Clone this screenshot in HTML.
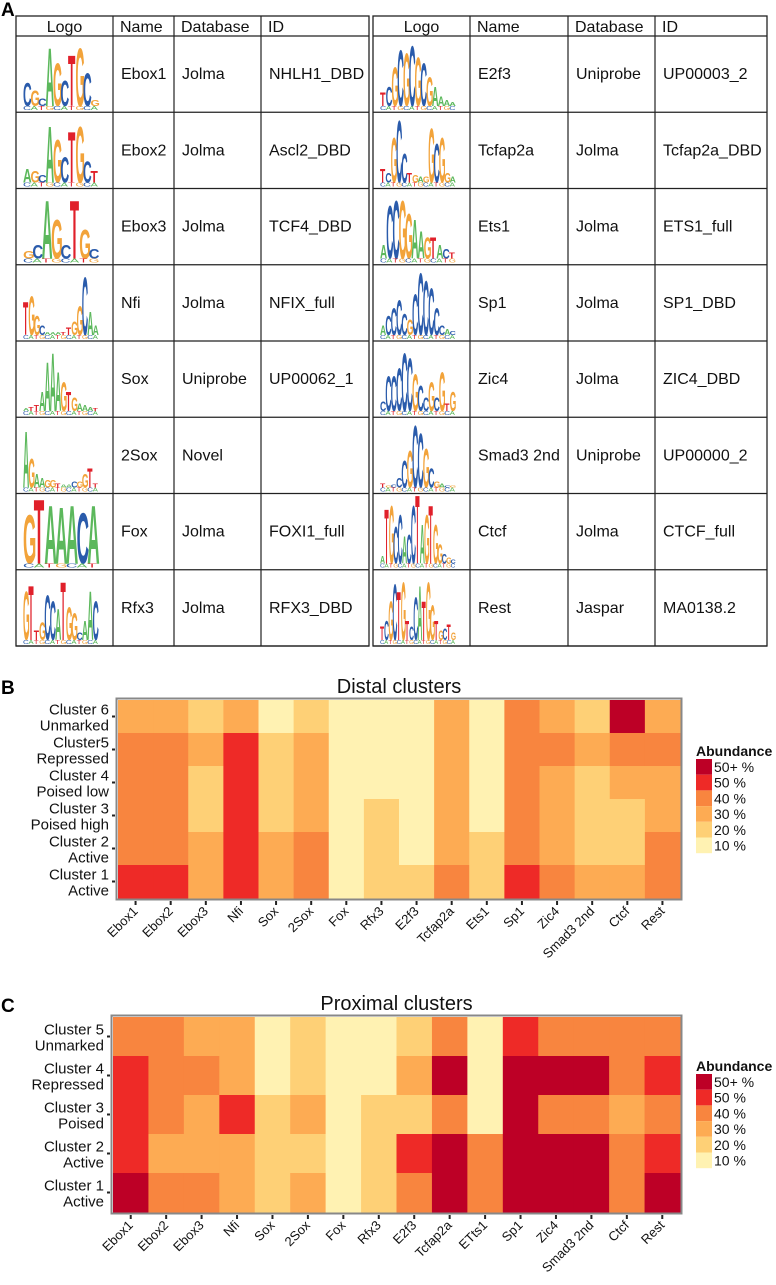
<!DOCTYPE html>
<html><head><meta charset="utf-8">
<style>
html,body{margin:0;padding:0;background:#fff;}
body{width:776px;height:1280px;position:relative;overflow:hidden;font-family:"Liberation Sans",Arial,sans-serif;}
svg text{font-family:"Liberation Sans",Arial,sans-serif;}
</style></head>
<body>
<svg id="fig" width="776" height="1280" viewBox="0 0 776 1280" xmlns="http://www.w3.org/2000/svg">
<text x="1" y="16" font-size="19" font-weight="bold">A</text>
<text x="1" y="694" font-size="19" font-weight="bold">B</text>
<text x="1" y="1012" font-size="19" font-weight="bold">C</text>
<g id="tables"></g>
<g id="distal"></g>
<g id="proximal"></g>
</svg>
<script>
const NS="http://www.w3.org/2000/svg";
function mk(tag,attrs,parent){const e=document.createElementNS(NS,tag);for(const k in attrs)e.setAttribute(k,attrs[k]);parent.appendChild(e);return e;}

// ---------- Table data ----------
const leftNames=["Ebox1","Ebox2","Ebox3","Nfi","Sox","2Sox","Fox","Rfx3"];
const leftDb=["Jolma","Jolma","Jolma","Jolma","Uniprobe","Novel","Jolma","Jolma"];
const leftId=["NHLH1_DBD","Ascl2_DBD","TCF4_DBD","NFIX_full","UP00062_1","","FOXI1_full","RFX3_DBD"];
const rightNames=["E2f3","Tcfap2a","Ets1","Sp1","Zic4","Smad3 2nd","Ctcf","Rest"];
const rightDb=["Uniprobe","Jolma","Jolma","Jolma","Jolma","Uniprobe","Jolma","Jaspar"];
const rightId=["UP00003_2","Tcfap2a_DBD","ETS1_full","SP1_DBD","ZIC4_DBD","UP00000_2","CTCF_full","MA0138.2"];
const leftLogos=[
 ["CGCAGCTGCG",[24,16,8,60,44,26,52,60,34,6]],
 ["AGCAGCTGCT",[14,12,8,58,44,26,52,58,22,12]],
 ["GCAGCTGC",[8,14,60,40,14,60,30,10]],
 ["TGGCAAATTGGCAA",[34,40,20,10,3,3,3,3,8,14,30,60,24,10]],
 ["ATTAAAAGTGAAAT",[3,4,6,20,50,60,40,30,20,14,8,6,4,3]],
 ["AGAAGGTAACGGTT",[58,30,14,10,8,8,4,3,3,6,6,14,20,4]],
 ["GTAAACA",[50,66,60,58,60,52,60]],
 ["GTTGCCATGGCAAC",[50,56,10,18,46,40,32,60,34,28,8,20,50,40]]
];
const rightLogos=[
 ["TCGCGCGCGAAAA",[14,20,40,58,54,62,50,44,30,20,10,6,4]],
 ["TCGCCTGAGGCGGA",[14,10,46,64,30,10,8,6,6,56,40,46,10,6]],
 ["ACCGGAAGTACT",[14,54,60,60,46,40,28,22,22,14,10,6]],
 ["ACCCCGCCCCCCAC",[10,20,28,36,22,16,42,64,56,48,28,10,6,4]],
 ["CCCCCCGCCGCGTG",[10,36,36,44,60,54,38,26,14,30,14,40,8,20]],
 ["TGCCCGCCGCGACG",[4,2,3,10,28,38,64,56,40,20,6,4,2,2]],
 ["ATGCCACCTAGTGGCGC",[8,56,60,38,50,28,30,60,70,40,50,60,40,20,10,6,4]],
 ["TCGCTGTCCATGGTGCTG",[14,20,40,58,50,60,20,14,44,56,40,60,36,20,10,12,16,8]]
];
const letterColor={A:"#5cb85c",C:"#2a5bab",G:"#f2a33a",T:"#e0202a"};

const T={top:16,head:20,row:76.25};
const leftCols=[16,113,174,261,369];
const rightCols=[373,470,568,655,767];
const tg=document.getElementById('tables');

function drawLogo(g,x0,x1,yBase,spec){
  const s=spec[0],h=spec[1],n=s.length,w=(x1-x0)/n;
  for(let i=0;i<n;i++){
    const L=s[i];const cap=14.3;
    const t=mk('text',{x:0,y:0,'font-size':20,'font-weight':'bold',fill:letterColor[L],transform:`translate(${x0+i*w},${yBase}) scale(${w/12.5},${h[i]/cap})`},g);
    t.textContent=L;
    const L2="ACGT"[(i*3+1)%4];
    const t2=mk('text',{x:0,y:0,'font-size':20,fill:letterColor[L2],transform:`translate(${x0+i*w},${yBase+4}) scale(${w/13.5},${4/cap})`},g);
    t2.textContent=L2;
  }
}

function drawTable(cols,names,dbs,ids,logos,prefix){
  const g=mk('g',{},tg);
  
  
  const bottom=T.top+T.head+8*T.row;
  mk('rect',{x:cols[0],y:T.top,width:cols[4]-cols[0],height:bottom-T.top,fill:'none',stroke:'#222','stroke-width':1.3},g);
  for(let c=1;c<4;c++)mk('line',{x1:cols[c],x2:cols[c],y1:T.top,y2:bottom,stroke:'#222','stroke-width':1.2},g);
  for(let r=0;r<=8;r++){const y=T.top+T.head+r*T.row;mk('line',{x1:cols[0],x2:cols[4],y1:y,y2:y,stroke:'#222','stroke-width':1.2},g);}
  const hdr=["Logo","Name","Database","ID"];
  for(let c=0;c<4;c++){
    const t=mk('text',{x:c==0?(cols[0]+cols[1])/2:cols[c]+7,y:T.top+16,'font-size':16,'text-anchor':c==0?'middle':'start',fill:'#111'},g);
    
    
    t.textContent=hdr[c];
  }
  for(let r=0;r<8;r++){
    const y0=T.top+T.head+r*T.row;
    const lg=mk('g',{},g);
    
    
    drawLogo(lg,cols[0]+7,cols[0]+82,y0+70,logos[r]);
    const vals=[names[r],dbs[r],ids[r]];
    for(let c=0;c<3;c++){
      const t=mk('text',{x:cols[c+1]+8,y:y0+T.row/2+5,'font-size':16,fill:'#111'},g);
      
      
      t.textContent=vals[c];
    }
  }
}
drawTable(leftCols,leftNames,leftDb,leftId,leftLogos,'left');
drawTable(rightCols,rightNames,rightDb,rightId,rightLogos,'right');

// ---------- Heatmap data ----------
const motifs=["Ebox1","Ebox2","Ebox3","Nfi","Sox","2Sox","Fox","Rfx3","E2f3","Tcfap2a","Ets1","Sp1","Zic4","Smad3 2nd","Ctcf","Rest"];
const motifsProx=["Ebox1","Ebox2","Ebox3","Nfi","Sox","2Sox","Fox","Rfx3","E2f3","Tcfap2a","ETts1","Sp1","Zic4","Smad3 2nd","Ctcf","Rest"];
const distalRows=[["Cluster 6","Unmarked"],["Cluster5","Repressed"],["Cluster 4","Poised low"],["Cluster 3","Poised high"],["Cluster 2","Active"],["Cluster 1","Active"]];
const distalC6=[3,3,2,3,1,2,1,1,1,3,1,4,3,2,6,3];
const distalC5=[4,4,3,5,2,3,1,1,1,3,1,4,4,3,4,4];
const distalC4=[4,4,2,5,2,3,1,1,1,3,1,4,3,2,3,3];
const distalC3=[4,4,2,5,2,3,1,2,1,3,1,4,3,2,2,3];
const distalC2=[4,4,3,5,3,4,1,2,1,3,2,4,3,2,2,4];
const distalC1=[5,5,3,5,3,4,1,2,2,4,2,5,4,3,3,4];
const proxRows=[["Cluster 5","Unmarked"],["Cluster 4","Repressed"],["Cluster 3","Poised"],["Cluster 2","Active"],["Cluster 1","Active"]];
const proxC5=[4,4,3,3,1,2,1,1,2,4,1,5,4,4,4,4];
const proxC4=[5,4,4,3,1,2,1,1,3,6,1,6,6,6,4,5];
const proxC3=[5,4,3,5,2,3,1,2,2,4,1,6,4,4,3,4];
const proxC2=[5,3,3,3,2,2,1,2,5,6,4,6,6,6,4,5];
const proxC1=[6,4,4,3,2,3,1,2,4,6,4,6,6,6,4,6];
const levelColors=["#fff2b2","#fed076","#fdab53","#f8853f","#ee2a27","#bd0026"];
const legendLabels=["50+ %","50 %","40 %","30 %","20 %","10 %"];

function heatmap(gid,name,title,rows,data,cols,box,legY){
  const g=document.getElementById(gid);
  
  
  const {x0,x1,y0,y1}=box;
  const nC=cols.length,nR=rows.length;
  const cw=(x1-x0)/nC,rh=(y1-y0)/nR;
  const xS=i=>x0+i*cw, yS=j=>y0+j*rh;
  const tt=mk('text',{x:(x0+x1)/2,y:y0-7,'font-size':20,'text-anchor':'middle',fill:'#111'},g);
  
  
  tt.textContent=title;
  for(let j=0;j<nR;j++)for(let i=0;i<nC;i++){
    const r=mk('rect',{x:xS(i),y:yS(j),width:cw+0.5,height:rh+0.5,fill:levelColors[data[j][i]-1]},g);
    
    
  }
  mk('rect',{x:x0-1.5,y:y0-1.5,width:x1-x0+3,height:y1-y0+3,fill:'none',stroke:'#888','stroke-width':2},g);
  for(let j=0;j<nR;j++){
    const cy=yS(j)+rh/2;
    mk('line',{x1:x0-6,x2:x0-3,y1:cy,y2:cy,stroke:'#222','stroke-width':2},g);
    const t=mk('text',{x:x0-9,y:cy-2,'font-size':15,'text-anchor':'end',fill:'#111'},g);
    
    
    mk('tspan',{x:x0-9,dy:0},t).textContent=rows[j][0];
    mk('tspan',{x:x0-9,dy:16},t).textContent=rows[j][1];
  }
  for(let i=0;i<nC;i++){
    const cx=xS(i)+cw/2;
    mk('line',{x1:cx,x2:cx,y1:y1+3,y2:y1+7,stroke:'#222','stroke-width':2},g);
    const t=mk('text',{x:0,y:0,'font-size':13,'text-anchor':'end',fill:'#111',transform:`translate(${cx+3},${y1+14}) rotate(-45)`},g);
    
    
    t.textContent=cols[i];
  }
  const lg=mk('g',{},g);
  
  
  const lt=mk('text',{x:696,y:legY,'font-size':14,'font-weight':'bold',fill:'#111'},lg);
  lt.textContent="Abundance";
  for(let k=0;k<6;k++){
    const yy=legY+3+k*15.7;
    const r=mk('rect',{x:696,y:yy,width:16,height:15.7,fill:levelColors[5-k]},lg);
    
    
    const t=mk('text',{x:714,y:yy+13,'font-size':14,fill:'#111'},lg);
    
    
    t.textContent=legendLabels[k];
  }
}
heatmap('distal','distal-heatmap','Distal clusters',distalRows,[distalC6,distalC5,distalC4,distalC3,distalC2,distalC1],motifs,{x0:118,x1:680,y0:700,y1:898},756);
heatmap('proximal','proximal-heatmap','Proximal clusters',proxRows,[proxC5,proxC4,proxC3,proxC2,proxC1],motifsProx,{x0:113,x1:680,y0:1017,y1:1212},1071);
</script>
</body></html>
